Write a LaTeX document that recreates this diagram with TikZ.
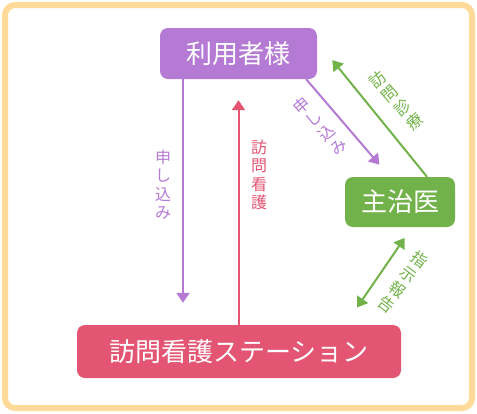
\documentclass[tikz,border=0pt]{standalone}
\usepackage{fontspec}
\setmainfont{Noto Sans CJK JP}
\usepackage{xcolor}
\usepackage{tikz}
\usetikzlibrary{positioning,arrows.meta}
\definecolor{userpurple}{RGB}{180,122,212}
\definecolor{docgreen}{RGB}{114,178,74}
\definecolor{stnred}{RGB}{227,85,114}
\definecolor{frameorange}{RGB}{255,218,153}

\begin{document}
\begin{tikzpicture}[x=1pt, y=-1pt,
		box/.style={rounded corners=8pt, inner sep=0pt, text=white,
					font=\fontsize{26}{28}\selectfont},
		arrow/.style={line width=2pt, -{Triangle[length=10pt,width=13pt]}},
		dblarrow/.style={line width=2pt, {Triangle[length=10pt,width=13pt]}-{Triangle[length=10pt,width=13pt]}},
		vlabel/.style={align=center, inner sep=0pt, font=\fontsize{16}{18.5}\selectfont}
	]
		\useasboundingbox (0,0) rectangle (477,413);
		\draw[frameorange, line width=6pt, rounded corners=10pt] (5,5) rectangle (472,408);

		\node[box, fill=userpurple, minimum width=157pt, minimum height=51pt] (user) at (238.5,53.5) {利用者様};
		\node[box, fill=docgreen, minimum width=110pt, minimum height=50pt] (doc) at (400,202) {主治医};
		\node[box, fill=stnred, minimum width=324pt, minimum height=53pt] (stn) at (239,351.5) {訪問看護ステーション};

		\draw[arrow, userpurple, shorten >=22pt] ([xshift=-55.5pt]user.south) -- ([xshift=-55.5pt]user.south |- stn.north);
		\draw[arrow, stnred, shorten >=21pt] (stn.north -| user.south) -- (user.south);
		\draw[arrow, userpurple, shorten >=16pt] ([xshift=-11pt]user.south east) -- ([xshift=45pt]doc.north west);
		\draw[arrow, docgreen, shorten >=24pt] ([xshift=27pt]doc.north) -- ([yshift=12pt]user.east);
		\draw[dblarrow, docgreen, shorten <=13pt, shorten >=21pt] ([xshift=12pt]doc.south) -- ([xshift=-56pt]stn.north east);

		\node[vlabel, userpurple] (lapply) at (163,185) {申\\し\\込\\み};
		\node[vlabel, stnred] (lvisit) at (259,175) {訪\\問\\看\\護};
		\node[vlabel, userpurple, rotate=41] (lapply2) at (320,126) {申\\し\\込\\み};
		\node[vlabel, docgreen, rotate=41] (lhome) at (396,101) {訪\\問\\診\\療};
		\node[vlabel, docgreen, rotate=-37] (lorder) at (403,282) {指\\示\\報\\告};
	\end{tikzpicture}
\end{document}
